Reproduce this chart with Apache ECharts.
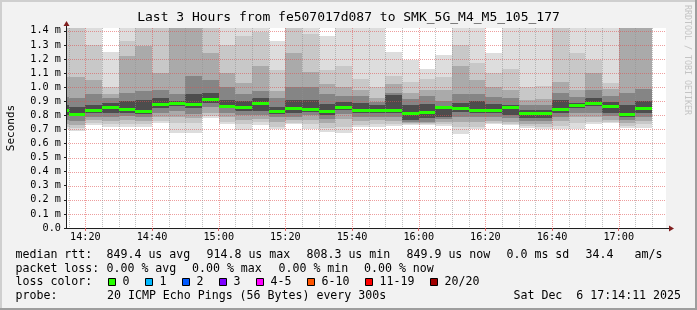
<!DOCTYPE html>
<html><head><meta charset="utf-8">
<script src="https://cdn.jsdelivr.net/npm/echarts@6/dist/echarts.min.js"></script>
<style>html,body{margin:0;padding:0;background:#f2f2f2;}#c{width:697px;height:310px;}</style>
</head><body><div id="c"></div>
<script>
// ---------------- DATA ----------------
// RRD step end times (5-minute steps); each step covers the 5 minutes before it
const stepEnds = ['14:15','14:20','14:25','14:30','14:35','14:40','14:45','14:50','14:55',
  '15:00','15:05','15:10','15:15','15:20','15:25','15:30','15:35','15:40','15:45','15:50','15:55',
  '16:00','16:05','16:10','16:15','16:20','16:25','16:30','16:35','16:40','16:45','16:50','16:55',
  '17:00','17:05','17:10'];
// smoke: sorted ping RTTs (ms) per step, outer -> inner; 1.5 = above the visible range
const pingMin = [0.70,0.69,0.733,0.715,0.72,0.72,0.745,0.675,0.675,0.78,0.735,0.695,0.73,0.705,0.735,0.705,0.68,0.675,0.715,0.715,0.725,0.733,0.733,0.725,0.67,0.70,0.738,0.733,0.71,0.70,0.70,0.705,0.735,0.742,0.71,0.71];
const pingLo2 = [0.72,0.71,0.745,0.74,0.74,0.735,0.76,0.745,0.745,0.795,0.755,0.735,0.75,0.72,0.745,0.735,0.71,0.72,0.73,0.735,0.735,0.738,0.738,0.735,0.715,0.72,0.745,0.74,0.725,0.72,0.725,0.745,0.755,0.75,0.725,0.735];
const pingLo3 = [0.74,0.73,0.765,0.76,0.77,0.76,0.79,0.79,0.78,0.82,0.79,0.77,0.775,0.755,0.765,0.77,0.745,0.775,0.76,0.765,0.76,0.745,0.745,0.755,0.755,0.755,0.76,0.755,0.74,0.74,0.76,0.79,0.79,0.765,0.745,0.76];
const pingLo4 = [0.77,0.76,0.79,0.785,0.795,0.785,0.82,0.83,0.81,0.86,0.82,0.80,0.80,0.785,0.79,0.80,0.775,0.81,0.79,0.79,0.79,0.755,0.755,0.775,0.79,0.79,0.79,0.78,0.76,0.76,0.79,0.82,0.82,0.795,0.77,0.79];
const pingLo5 = [0.80,0.795,0.815,0.82,0.82,0.81,0.85,0.865,0.85,0.885,0.85,0.83,0.83,0.81,0.82,0.825,0.80,0.835,0.815,0.815,0.815,0.77,0.78,0.79,0.825,0.815,0.815,0.80,0.78,0.78,0.82,0.85,0.865,0.82,0.79,0.82];
const median  = [0.835,0.81,0.84,0.86,0.845,0.831,0.879,0.886,0.882,0.915,0.869,0.857,0.885,0.831,0.853,0.848,0.828,0.857,0.841,0.839,0.838,0.814,0.823,0.857,0.85,0.837,0.839,0.857,0.814,0.814,0.847,0.871,0.889,0.864,0.808,0.850];
const pingHi5 = [0.87,0.86,0.875,0.89,0.90,0.91,0.92,0.905,0.95,0.96,0.91,0.90,0.92,0.86,0.91,0.91,0.88,0.895,0.885,0.87,0.945,0.87,0.88,0.868,0.89,0.905,0.88,0.875,0.84,0.84,0.91,0.89,0.92,0.895,0.87,0.90];
const pingHi4 = [0.93,0.92,0.95,0.92,0.96,0.97,0.98,0.95,1.08,1.05,1.0,0.95,0.97,0.92,1.0,1.0,0.95,0.94,0.94,0.895,0.96,0.915,0.94,0.90,0.95,0.95,0.93,0.925,0.87,0.87,0.96,0.93,0.98,0.94,0.96,0.99];
const pingHi3 = [1.07,1.07,1.05,0.95,1.22,1.29,1.10,1.5,1.5,1.24,1.10,1.03,1.15,0.97,1.24,1.11,1.02,1.0,0.98,0.925,1.02,0.96,0.98,0.98,1.15,1.05,1.0,0.98,0.91,0.915,1.04,0.98,1.10,0.99,1.5,1.5];
const pingHi2 = [1.5,1.5,1.30,1.0,1.33,1.5,1.5,1.5,1.5,1.5,1.30,1.36,1.39,1.12,1.5,1.375,1.12,1.15,1.06,1.0,1.08,1.04,1.055,1.07,1.30,1.17,1.10,1.13,1.0,1.005,1.5,1.24,1.19,1.03,1.5,1.5];
const pingMax = [1.5,1.5,1.5,1.25,1.5,1.5,1.5,1.5,1.5,1.5,1.5,1.5,1.5,1.33,1.5,1.5,1.36,1.5,1.5,1.5,1.25,1.195,1.13,1.23,1.5,1.5,1.24,1.5,1.5,1.5,1.5,1.5,1.5,1.5,1.5,1.5];

const viewStart = '14:14:11';
const viewEnd = '17:14:11';
const xTickLabels = ['14:20','14:40','15:00','15:20','15:40','16:00','16:20','16:40','17:00'];
const yTicks = [0,0.1,0.2,0.3,0.4,0.5,0.6,0.7,0.8,0.9,1.0,1.1,1.2,1.3,1.4];
const yTickLabels = ['0.0','0.1 m','0.2 m','0.3 m','0.4 m','0.5 m','0.6 m','0.7 m','0.8 m','0.9 m','1.0 m','1.1 m','1.2 m','1.3 m','1.4 m'];

const titleText = 'Last 3 Hours from fe507017d087 to SMK_5G_M4_M5_105_177';
const yName = 'Seconds';
const rttLabel = 'median rtt:';
const rttStats = ['849.4 us avg','914.8 us max','808.3 us min','849.9 us now','0.0 ms sd','34.4','am/s'];
const lossLabel = 'packet loss:';
const lossStats = ['0.00 % avg','0.00 % max','0.00 % min','0.00 % now'];
const lossColorLabel = 'loss color:';
const lossBuckets = ['0','1','2','3','4-5','6-10','11-19','20/20'];
const probeLabel = 'probe:';
const probeText = '20 ICMP Echo Pings (56 Bytes) every 300s';
const stampText = 'Sat Dec  6 17:14:11 2025';
const watermark = 'RRDTOOL / TOBI OETIKER';

// ---------------- STYLE / LAYOUT ----------------
const FONT = '"DejaVu Sans Mono", monospace';
const G = {left: 66, top: 28, width: 600, height: 200};
const Y_MAX = 1.42;
const STEP = 5;
const bandColors = ['#dddddd', '#c8c8c8', '#aaaaaa', '#858585', '#4d4d4d'];
const lossColors = ['#26ff00','#00b8ff','#0059ff','#7e00ff','#ff00ff','#ff5500','#ff0000','#a10000'];
const GRID_C = 'rgba(143,143,143,0.55)';
const MGRID_C = 'rgba(222,79,79,0.55)';
const ARROW_C = '#801f1f';
const AXIS_C = '#1f1f1f';
const lineY = [254.5, 268.5, 282.3, 296.3];
const rttX = [106.5, 206.5, 306.5, 406.5, 506.5, 585.5, 634.5];
const lossX = [106.5, 192, 278.5, 364];
const bucketX = [108, 145, 182, 219, 256, 307, 365, 430];

const toMin = s => { const p = s.split(':').map(Number); return p[0] * 60 + p[1] + (p[2] || 0) / 60; };
const xMin = toMin(viewStart), xMax = toMin(viewEnd);
const xTickValues = xTickLabels.map(toMin);

const loArrays = [pingMin, pingLo2, pingLo3, pingLo4, pingLo5];
const hiArrays = [pingMax, pingHi2, pingHi3, pingHi4, pingHi5];
const smokeData = stepEnds.map((e, i) => {
  const t1 = toMin(e);
  return [t1 - STEP, t1].concat(loArrays.map(a => a[i]), hiArrays.map(a => a[i]));
});
const medianData = stepEnds.map((e, i) => { const t1 = toMin(e); return [t1 - STEP, t1, median[i]]; });

const gridData = [];
yTicks.forEach(v => { if (v > 0) gridData.push([0, v, 1]); });
for (let t = Math.ceil(xMin / STEP) * STEP; t <= xMax; t += STEP) gridData.push([1, t, t % 20 === 0 ? 1 : 0]);

function renderSmoke(params, api) {
  const x0 = api.value(0), x1 = api.value(1);
  const children = [];
  for (let k = 0; k < 5; k++) {
    const lo = api.value(2 + k), hi = api.value(7 + k);
    const a = api.coord([x0, hi]), b = api.coord([x1, lo]);
    const X = Math.round(a[0]), Y = Math.round(a[1]);
    children.push({type: 'rect', shape: {x: X, y: Y, width: Math.round(b[0]) - X, height: Math.round(b[1]) - Y},
      style: {fill: bandColors[k]}});
  }
  return {type: 'group', children};
}
function renderMedian(params, api) {
  const a = api.coord([api.value(0), api.value(2)]), b = api.coord([api.value(1), api.value(2)]);
  const X = Math.round(a[0]);
  return {type: 'rect', shape: {x: X, y: Math.round(a[1]) - 1, width: Math.round(b[0]) - X, height: 3},
    style: {fill: lossColors[0]}};
}
function renderGrid(params, api) {
  const cs = params.coordSys;
  const orient = api.value(0), v = api.value(1), major = api.value(2);
  const style = {stroke: major ? MGRID_C : GRID_C, lineWidth: 1, lineDash: [1, 1], fill: null};
  if (orient === 0) {
    const y = Math.round(api.coord([xMin, v])[1]) + 0.5;
    return {type: 'line', shape: {x1: cs.x, y1: y, x2: cs.x + cs.width, y2: y}, style};
  }
  const x = Math.round(api.coord([v, 0])[0]) + 0.5;
  return {type: 'line', shape: {x1: x, y1: cs.y, x2: x, y2: cs.y + cs.height}, style};
}

function txt(x, y, text, extra) {
  return Object.assign({type: 'text', x, y, silent: true,
    style: Object.assign({text, fontFamily: FONT, fontSize: 11.6, fill: '#000', align: 'left', verticalAlign: 'middle'}, extra || {})});
}

const graphics = [
  {type: 'rect', shape: {x: 0, y: 0, width: 697, height: 2}, style: {fill: '#cfcfcf'}},
  {type: 'rect', shape: {x: 0, y: 0, width: 2, height: 310}, style: {fill: '#cfcfcf'}},
  {type: 'rect', shape: {x: 0, y: 308, width: 697, height: 2}, style: {fill: '#9e9e9e'}},
  {type: 'rect', shape: {x: 695, y: 0, width: 2, height: 310}, style: {fill: '#9e9e9e'}},
  // axis extensions + arrows
  {type: 'line', shape: {x1: G.left + 0.5, y1: G.top, x2: G.left + 0.5, y2: G.top - 3}, style: {stroke: AXIS_C, lineWidth: 1}},
  {type: 'polygon', shape: {points: [[G.left + 0.5, G.top - 7], [G.left - 2.5, G.top - 2], [G.left + 3.5, G.top - 2]]}, style: {fill: ARROW_C}},
  {type: 'line', shape: {x1: G.left + G.width, y1: G.top + G.height + 0.5, x2: G.left + G.width + 3, y2: G.top + G.height + 0.5}, style: {stroke: AXIS_C, lineWidth: 1}},
  {type: 'polygon', shape: {points: [[G.left + G.width + 8, G.top + G.height + 0.5], [G.left + G.width + 3, G.top + G.height - 2.5], [G.left + G.width + 3, G.top + G.height + 3.5]]}, style: {fill: ARROW_C}},
  // watermark
  {type: 'text', x: 687.5, y: 5, rotation: -Math.PI / 2, silent: true,
   style: {text: watermark, fontFamily: FONT, fontSize: 8.3, fill: '#c4c4c4', align: 'left', verticalAlign: 'middle'}},
  // legend lines
  txt(15.5, lineY[0], rttLabel),
  ...rttStats.map((s, i) => txt(rttX[i], lineY[0], s)),
  txt(15.5, lineY[1], lossLabel),
  ...lossStats.map((s, i) => txt(lossX[i], lineY[1], s)),
  txt(15.5, lineY[2], lossColorLabel),
  ...lossBuckets.map((s, i) => ({type: 'rect', shape: {x: bucketX[i] + 0.5, y: Math.round(lineY[2]) - 3.5, width: 7, height: 7},
      style: {fill: lossColors[i], stroke: '#000', lineWidth: 1}})),
  ...lossBuckets.map((s, i) => txt(bucketX[i] + 14.5, lineY[2], s)),
  txt(15.5, lineY[3], probeLabel),
  txt(107, lineY[3], probeText),
  txt(681, lineY[3], stampText, {align: 'right'})
];

const chart = echarts.init(document.getElementById('c'), null, {renderer: 'canvas', width: 697, height: 310});
chart.setOption({
  backgroundColor: '#f2f2f2',
  animation: false,
  textStyle: {fontFamily: FONT},
  title: {text: titleText, left: 'center', top: 11, padding: 0,
    textStyle: {fontFamily: FONT, fontSize: 13, fontWeight: 'normal', color: '#000', lineHeight: 14}},
  grid: {left: G.left, top: G.top, width: G.width, height: G.height, show: true,
    backgroundColor: '#ffffff', borderWidth: 0, containLabel: false, outerBoundsMode: 'none'},
  xAxis: {
    type: 'value', min: xMin, max: xMax, z: 10,
    splitLine: {show: false},
    axisLine: {show: true, onZero: false, lineStyle: {color: AXIS_C, width: 1}},
    axisTick: {show: true, customValues: xTickValues, length: 3, lineStyle: {color: 'rgba(222,79,79,0.85)'}},
    axisLabel: {customValues: xTickValues, margin: 9.5, verticalAlign: 'middle',
      fontFamily: FONT, fontSize: 10.2, color: '#000',
      formatter: v => { const i = xTickValues.findIndex(t => Math.abs(t - v) < 1e-6); return i >= 0 ? xTickLabels[i] : ''; }}
  },
  yAxis: {
    type: 'value', min: 0, max: Y_MAX, z: 10,
    name: yName, nameLocation: 'middle', nameGap: 49, nameRotate: 90,
    nameTextStyle: {fontFamily: FONT, fontSize: 11, color: '#000'},
    splitLine: {show: false},
    axisLine: {show: true, lineStyle: {color: AXIS_C, width: 1}},
    axisTick: {show: true, customValues: yTicks, length: 2, lineStyle: {color: AXIS_C}},
    axisLabel: {customValues: yTicks, margin: 5, fontFamily: FONT, fontSize: 10.2, color: '#000',
      formatter: v => { const i = yTicks.findIndex(t => Math.abs(t - v) < 1e-6); return i >= 0 ? yTickLabels[i] : ''; }}
  },
  series: [
    {type: 'custom', name: 'smoke', renderItem: renderSmoke, data: smokeData, clip: true, z: 2, silent: true,
      encode: {x: [0, 1], y: [2, 3, 4, 5, 6, 7, 8, 9, 10, 11]}},
    {type: 'custom', name: 'grid', renderItem: renderGrid, data: gridData, clip: false, z: 3, silent: true},
    {type: 'custom', name: 'median', renderItem: renderMedian, data: medianData, clip: true, z: 4, silent: true,
      encode: {x: [0, 1], y: 2}}
  ],
  graphic: graphics
});
</script></body></html>
